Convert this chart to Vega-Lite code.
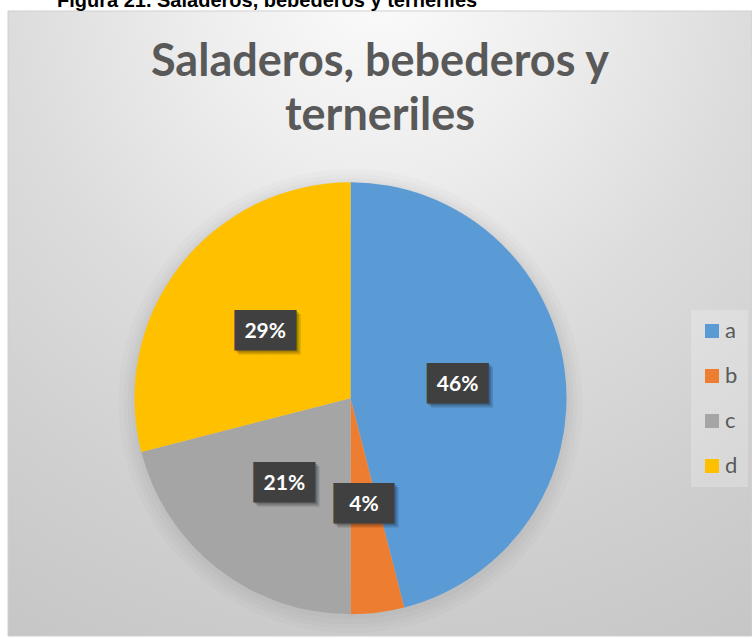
{
  "$schema": "https://vega.github.io/schema/vega-lite/v6.json",
  "width": 744,
  "height": 625,
  "autosize": "none",
  "padding": {"left": 8, "top": 11, "right": 0, "bottom": 3},
  "background": "white",
  "title": {
    "text": "Figura 21. Saladeros, bebederos y terneriles",
    "anchor": "start",
    "frame": "group",
    "dx": 49,
    "offset": -20,
    "baseline": "bottom",
    "font": "Liberation Sans",
    "fontSize": 20,
    "fontWeight": "bold",
    "color": "#000000"
  },
  "config": {
    "view": {"stroke": null},
    "legend": {
      "orient": "none",
      "legendX": 683,
      "legendY": 299,
      "title": null,
      "symbolType": "square",
      "symbolSize": 196,
      "symbolStrokeWidth": 0,
      "labelFont": "Lato",
      "labelFontSize": 22,
      "labelColor": "#595959",
      "labelOffset": 2,
      "rowPadding": 23,
      "padding": 10,
      "fillColor": "rgba(255,255,255,0.22)"
    }
  },
  "datasets": {
    "pie": [
      {"cat": "a", "value": 0.46},
      {"cat": "b", "value": 0.04},
      {"cat": "c", "value": 0.21},
      {"cat": "d", "value": 0.29}
    ]
  },
  "data": {"name": "pie"},
  "layer": [
    {
      "data": {"values": [{"t": 1}]},
      "mark": {
        "type": "rect",
        "stroke": "#d0d0d0",
        "strokeWidth": 1,
        "fill": {
          "gradient": "radial",
          "x1": 0.5, "y1": 0.05, "r1": 0,
          "x2": 0.5, "y2": 0.05, "r2": 1,
          "stops": [
            {"offset": 0, "color": "#fbfbfb"},
            {"offset": 0.25, "color": "#ededed"},
            {"offset": 0.5, "color": "#dcdcdc"},
            {"offset": 0.75, "color": "#d0d0d0"},
            {"offset": 1, "color": "#c6c6c6"}
          ]
        }
      },
      "encoding": {}
    },
    {
      "transform": [{"aggregate": [{"op": "sum", "field": "value", "as": "total"}]}],
      "mark": {"type": "arc", "x": 342.5, "y": 390.3, "outerRadius": 232, "fill": "#000000", "opacity": 0.015},
      "encoding": {"theta": {"field": "total", "type": "quantitative"}}
    },
    {
      "transform": [{"aggregate": [{"op": "sum", "field": "value", "as": "total"}]}],
      "mark": {"type": "arc", "x": 342.5, "y": 390.3, "outerRadius": 227, "fill": "#000000", "opacity": 0.015},
      "encoding": {"theta": {"field": "total", "type": "quantitative"}}
    },
    {
      "transform": [{"aggregate": [{"op": "sum", "field": "value", "as": "total"}]}],
      "mark": {"type": "arc", "x": 342.5, "y": 390.3, "outerRadius": 223, "fill": "#000000", "opacity": 0.02},
      "encoding": {"theta": {"field": "total", "type": "quantitative"}}
    },
    {
      "transform": [{"aggregate": [{"op": "sum", "field": "value", "as": "total"}]}],
      "mark": {"type": "arc", "x": 342.5, "y": 389.3, "outerRadius": 219, "fill": "#000000", "opacity": 0.02},
      "encoding": {"theta": {"field": "total", "type": "quantitative"}}
    },
    {
      "mark": {"type": "arc", "x": 342.5, "y": 387.3, "outerRadius": 216},
      "encoding": {
        "theta": {"field": "value", "type": "quantitative", "stack": true},
        "order": {"field": "cat", "type": "ordinal"},
        "color": {
          "field": "cat",
          "type": "nominal",
          "scale": {"domain": ["a", "b", "c", "d"], "range": ["#5B9BD5", "#ED7D31", "#A5A5A5", "#FFC000"]}
        }
      }
    },
    {
      "mark": {"type": "text", "x": 342.5, "y": 387.3, "radius": 108, "dx": 4, "dy": 4, "font": "DejaVu Sans Mono", "fontSize": 34, "align": "center", "baseline": "middle", "fill": "#000000", "opacity": 0.15},
      "encoding": {
        "theta": {"field": "value", "type": "quantitative", "stack": true},
        "order": {"field": "cat", "type": "ordinal"},
        "text": {"condition": {"test": "datum.value < 0.1", "value": "▐██▌"}, "value": "███"}
      }
    },
    {
      "mark": {"type": "text", "x": 342.5, "y": 387.3, "radius": 108, "dx": 2, "dy": 2, "font": "DejaVu Sans Mono", "fontSize": 34, "align": "center", "baseline": "middle", "fill": "#000000", "opacity": 0.2},
      "encoding": {
        "theta": {"field": "value", "type": "quantitative", "stack": true},
        "order": {"field": "cat", "type": "ordinal"},
        "text": {"condition": {"test": "datum.value < 0.1", "value": "▐██▌"}, "value": "███"}
      }
    },
    {
      "mark": {"type": "text", "x": 342.5, "y": 387.3, "radius": 108, "font": "DejaVu Sans Mono", "fontSize": 34, "align": "center", "baseline": "middle", "fill": "#404040"},
      "encoding": {
        "theta": {"field": "value", "type": "quantitative", "stack": true},
        "order": {"field": "cat", "type": "ordinal"},
        "text": {"condition": {"test": "datum.value < 0.1", "value": "▐██▌"}, "value": "███"}
      }
    },
    {
      "mark": {"type": "text", "x": 342.5, "y": 387.3, "radius": 108, "font": "Lato", "fontWeight": "bold", "fontSize": 21, "align": "center", "baseline": "middle", "fill": "#ffffff"},
      "encoding": {
        "theta": {"field": "value", "type": "quantitative", "stack": true},
        "order": {"field": "cat", "type": "ordinal"},
        "text": {"field": "value", "type": "quantitative", "format": ".0%"}
      }
    },
    {
      "data": {"values": [{"t": 1}]},
      "mark": {"type": "text", "text": ["Saladeros, bebederos y", "terneriles"], "font": "Lato", "fontWeight": "bold", "fontSize": 45, "color": "#595959", "align": "center", "baseline": "top", "lineHeight": 54.5, "y": 28.5},
      "encoding": {}
    }
  ]
}
